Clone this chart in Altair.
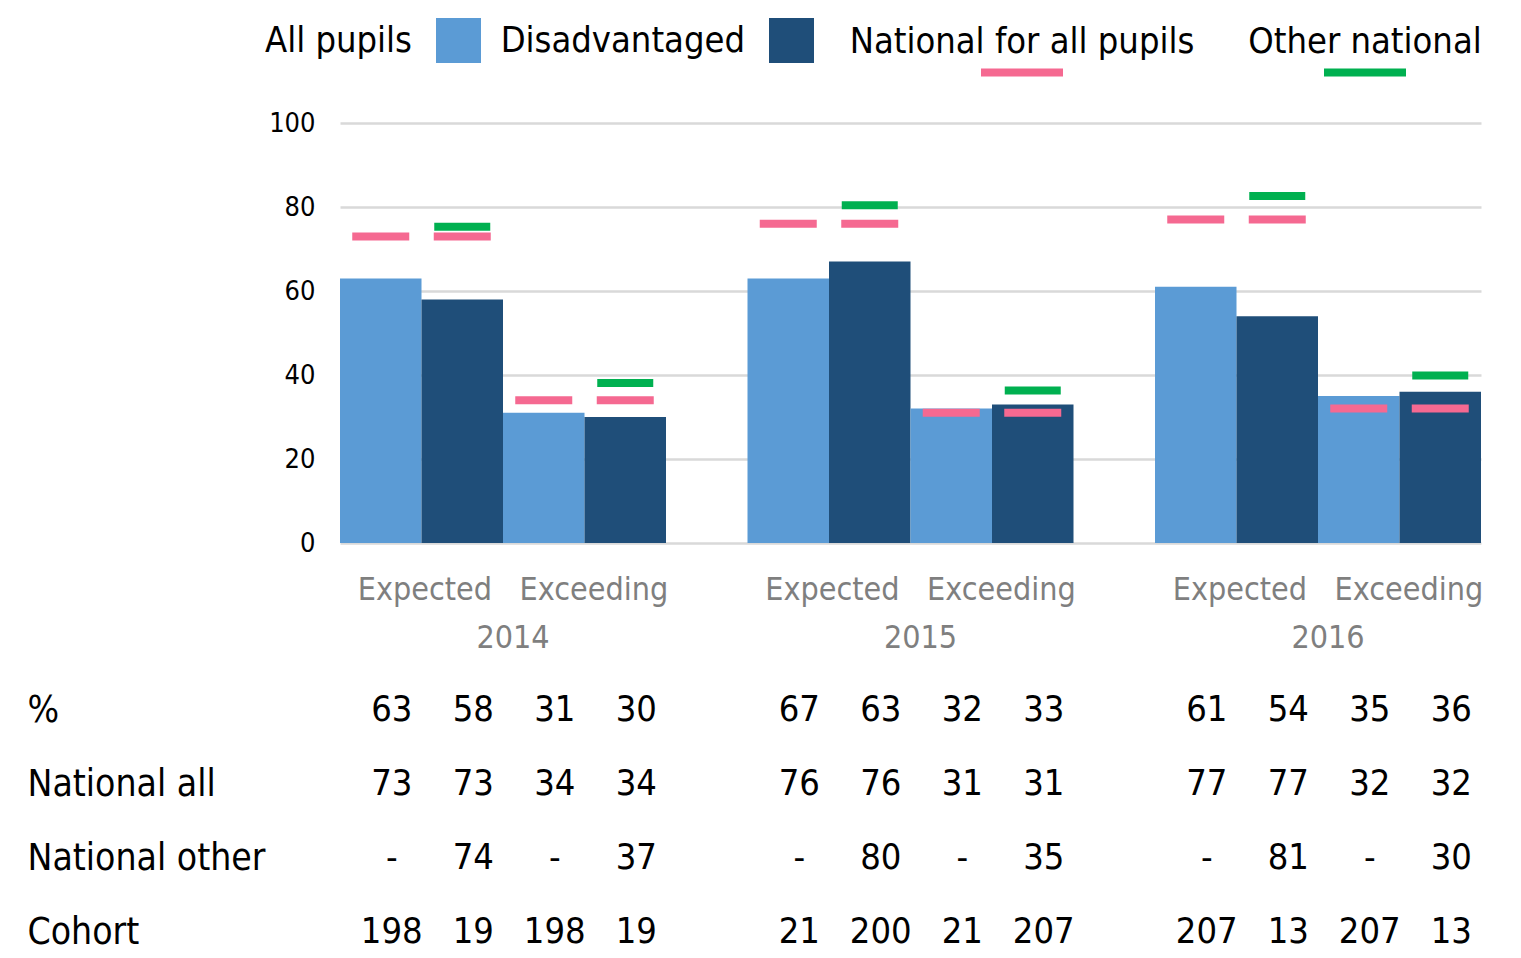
import altair as alt
import pandas as pd

FONT = "DejaVu Sans Condensed, DejaVu Sans, sans-serif"

years = ["2014", "2015", "2016"]
slots = ["Expected|All pupils", "Expected|Disadvantaged",
         "Exceeding|All pupils", "Exceeding|Disadvantaged"]
slot_groups = ["All pupils", "Disadvantaged", "All pupils", "Disadvantaged"]
dis_slots = ["Expected|Disadvantaged", "Exceeding|Disadvantaged"]

# bar values per year in slot order
pupils_2014 = [63, 58, 31, 30]
pupils_2015 = [63, 67, 32, 33]
pupils_2016 = [61, 54, 35, 36]

# pink markers: national for all pupils
national_all_2014 = [73, 73, 34, 34]
national_all_2015 = [76, 76, 31, 31]
national_all_2016 = [77, 77, 32, 32]

# green markers: other national (disadvantaged only)
national_other_2014 = [75.3, 38.1]
national_other_2015 = [80.4, 36.3]
national_other_2016 = [82.6, 39.9]

bar_names = ["All pupils", "Disadvantaged"]
bar_colors = ["#5B9BD5", "#1F4E79"]
marker_names = ["National for all pupils", "Other national"]
marker_colors = ["#F56991", "#00B050"]

y_ticks = [0, 20, 40, 60, 80, 100]

table_rows = ["%", "National all", "National other", "Cohort"]
pct_2014 = ["63", "58", "31", "30"]
pct_2015 = ["67", "63", "32", "33"]
pct_2016 = ["61", "54", "35", "36"]
nat_all_txt_2014 = ["73", "73", "34", "34"]
nat_all_txt_2015 = ["76", "76", "31", "31"]
nat_all_txt_2016 = ["77", "77", "32", "32"]
nat_other_txt_2014 = ["-", "74", "-", "37"]
nat_other_txt_2015 = ["-", "80", "-", "35"]
nat_other_txt_2016 = ["-", "81", "-", "30"]
cohort_2014 = ["198", "19", "198", "19"]
cohort_2015 = ["21", "200", "21", "207"]
cohort_2016 = ["207", "13", "207", "13"]

# ---- build tables ----
bar_vals = {"2014": pupils_2014, "2015": pupils_2015, "2016": pupils_2016}
pink_vals = {"2014": national_all_2014, "2015": national_all_2015, "2016": national_all_2016}
green_vals = {"2014": national_other_2014, "2015": national_other_2015, "2016": national_other_2016}

bars_df = pd.DataFrame([
    {"year": y, "slot": s, "group": g, "value": v}
    for y in years for s, g, v in zip(slots, slot_groups, bar_vals[y])
])
pink_df = pd.DataFrame([
    {"year": y, "slot": s, "series": marker_names[0], "value": v}
    for y in years for s, v in zip(slots, pink_vals[y])
])
green_df = pd.DataFrame([
    {"year": y, "slot": s, "series": marker_names[1], "value": v}
    for y in years for s, v in zip(dis_slots, green_vals[y])
])

table_src = {
    "%": {"2014": pct_2014, "2015": pct_2015, "2016": pct_2016},
    "National all": {"2014": nat_all_txt_2014, "2015": nat_all_txt_2015, "2016": nat_all_txt_2016},
    "National other": {"2014": nat_other_txt_2014, "2015": nat_other_txt_2015, "2016": nat_other_txt_2016},
    "Cohort": {"2014": cohort_2014, "2015": cohort_2015, "2016": cohort_2016},
}
table_df = pd.DataFrame([
    {"row": r, "year": y, "slot": s, "txt": t}
    for r in table_rows for y in years for s, t in zip(slots, table_src[r][y])
])

# legend for bars: label on the left of the square
bar_legend = alt.Legend(
    title=None, orient="none", direction="horizontal",
    legendX=96, legendY=-105,
    labelFont=FONT, labelFontSize=36, labelColor="black", labelLimit=0,
    labelAlign="right", labelOffset={"expr": "-69"}, labelBaseline="middle",
    symbolSize=2025, symbolType="square", symbolStrokeWidth=0, symbolOpacity=1,
    columnPadding=19,
)
# legend for markers: label above a short line
marker_legend = alt.Legend(
    title=None, orient="none", direction="horizontal",
    legendX=641, legendY=-103,
    labelFont=FONT, labelFontSize=36, labelColor="black", labelLimit=0,
    labelAlign="center", labelOffset={"expr": "-41"}, labelBaseline="bottom",
    symbolSize=6724, symbolType="M-1,0.17H1V0.37H-1Z", symbolStrokeWidth=0, symbolOpacity=1,
    columnPadding=53,
)

x_enc = alt.X(
    "year:N", sort=years, title=None,
    scale=alt.Scale(paddingInner=0.2, paddingOuter=0),
    axis=alt.Axis(
        labelExpr="['Expected\u00a0\u00a0\u00a0Exceeding', datum.label]",
        labelFont=FONT, labelFontSize=32, labelColor="#7F7F7F",
        labelLineHeight=48, labelPadding=31, labelOffset=10, labelLimit=0,
        labelOverlap=False, ticks=False, domain=False, grid=False, labelAngle=0,
    ),
)
xo_enc = alt.XOffset("slot:N", sort=slots, scale=alt.Scale(domain=slots, paddingInner=0, paddingOuter=0))
y_enc = alt.Y(
    "value:Q", title=None,
    scale=alt.Scale(domain=[0, 100], nice=False),
    axis=alt.Axis(
        values=y_ticks, labelFont=FONT, labelFontSize=27, labelColor="black",
        labelPadding=25, ticks=False, domain=False,
        grid=True, gridColor="#D9D9D9", gridWidth=2.5,
    ),
)

no_frame = alt.ViewBackground(stroke="transparent", strokeWidth=0)

bars = alt.Chart(bars_df).mark_bar().encode(
    x=x_enc, xOffset=xo_enc, y=y_enc,
    color=alt.Color("group:N", scale=alt.Scale(domain=bar_names, range=bar_colors), legend=bar_legend),
)
marker_scale = alt.Scale(domain=marker_names, range=marker_colors)
pink = alt.Chart(pink_df).mark_tick(size=57, thickness=8, opacity=1).encode(
    x=x_enc, xOffset=xo_enc, y=y_enc,
    fill=alt.Fill("series:N", scale=marker_scale, legend=marker_legend),
)
green = alt.Chart(green_df).mark_tick(size=56, thickness=8, opacity=1).encode(
    x=x_enc, xOffset=xo_enc, y=y_enc,
    fill=alt.Fill("series:N", scale=marker_scale, legend=marker_legend),
)

top = alt.layer(bars, pink, green).properties(width=1141, height=420, view=no_frame)

table = alt.Chart(table_df).mark_text(
    font=FONT, fontSize=36, color="black", dx=11, baseline="middle"
).encode(
    x=alt.X("year:N", sort=years, title=None,
            scale=alt.Scale(paddingInner=0.2, paddingOuter=0), axis=None),
    xOffset=alt.XOffset("slot:N", sort=slots,
                        scale=alt.Scale(domain=slots, paddingInner=0, paddingOuter=0)),
    y=alt.Y("row:N", sort=table_rows, title=None,
            scale=alt.Scale(type="point", padding=0.5),
            axis=alt.Axis(labelAlign="left", labelPadding=313, ticks=False, tickSize=0,
                          domain=False, grid=False, labelFont=FONT, labelFontSize=37,
                          labelColor="black", labelLimit=0)),
    text="txt:N",
).properties(width=1141, height=296, view=no_frame)

chart = alt.vconcat(top, table, spacing=20).resolve_scale(
    y="independent"
).properties(
    padding={"left": 19, "top": 10, "right": 5, "bottom": 2}
).configure_view(stroke="transparent", strokeWidth=0).configure(font=FONT)

chart.save("out.html", embed_options={"renderer": "svg", "actions": False})
